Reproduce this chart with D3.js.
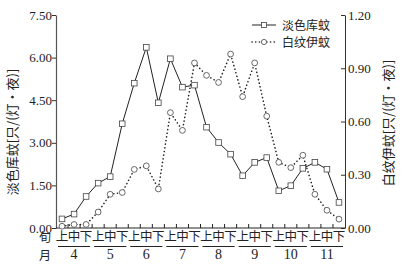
<!DOCTYPE html>
<html>
<head>
<meta charset="utf-8">
<script src="https://cdn.jsdelivr.net/npm/d3@7"></script>
<style>
  body { margin: 0; background: #fff; }
  svg text { fill: #222; }
  .num { font-family: "Liberation Serif", "DejaVu Serif", serif; font-size: 13px; }
  .cjk { font-family: "Noto Sans CJK SC", sans-serif; font-size: 12px; }
</style>
</head>
<body>
<div id="chart"></div>
<script>
// data
const months = ['4', '5', '6', '7', '8', '9', '10', '11'];
const xun = ['上', '中', '下'];
const culexValues = [
  0.32, 0.49, 1.11,
  1.58, 1.81, 3.67,
  5.10, 6.36, 4.41,
  5.96, 4.96, 5.03,
  3.55, 3.01, 2.60,
  1.84, 2.31, 2.48,
  1.31, 1.49, 2.10,
  2.31, 2.07, 0.90
];
const aedesValues = [
  0.01, 0.02, 0.02,
  0.09, 0.19, 0.20,
  0.33, 0.35, 0.22,
  0.65, 0.55, 0.93,
  0.86, 0.82, 0.98,
  0.74, 0.93, 0.63,
  0.37, 0.34, 0.41,
  0.19, 0.10, 0.05
];
const leftTicks = [0, 1.5, 3, 4.5, 6, 7.5];
const rightTicks = [0, 0.3, 0.6, 0.9, 1.2];
const seriesNames = ['淡色库蚊', '白纹伊蚊'];
const leftTitle = '淡色库蚊[只/(灯·夜)]';
const rightTitle = '白纹伊蚊[只/(灯·夜)]';

const W = 404, H = 266;
const margin = { top: 15, right: 59, bottom: 38, left: 56 };
const innerW = W - margin.left - margin.right;
const innerH = H - margin.top - margin.bottom;

const svg = d3.select('#chart').append('svg')
  .attr('width', W).attr('height', H);
const g = svg.append('g')
  .attr('transform', 'translate(' + margin.left + ',' + margin.top + ')');

// slots: one per 旬
const slots = [];
months.forEach(m => xun.forEach(x => slots.push(m + x)));

const xScale = d3.scaleBand().domain(slots).range([0, innerW]);
const yLeft = d3.scaleLinear().domain([0, 7.5]).range([innerH, 0]);
const yRight = d3.scaleLinear().domain([0, 1.2]).range([innerH, 0]);
const cx = i => xScale(slots[i]) + xScale.bandwidth() / 2;

// left axis
const la = g.append('g')
  .call(d3.axisLeft(yLeft).tickValues(leftTicks).tickFormat(d3.format('.2f')).tickSize(4).tickSizeOuter(0));
la.select('.domain').attr('stroke', '#555').attr('stroke-width', 1.2);
la.selectAll('.tick line').attr('stroke', '#333');
la.selectAll('.tick text').attr('class', 'num').attr('x', -4).attr('fill', '#222');

// right axis, ticks point inward
const ra = g.append('g')
  .attr('transform', 'translate(' + innerW + ',0)')
  .call(d3.axisRight(yRight).tickValues(rightTicks).tickFormat(d3.format('.2f')).tickSize(-4).tickSizeOuter(0));
ra.select('.domain').attr('stroke', '#333');
ra.selectAll('.tick line').attr('stroke', '#333');
ra.selectAll('.tick text').attr('class', 'num').attr('x', 3).attr('fill', '#222');

// x axis: ticks at slot boundaries pointing up
g.append('line')
  .attr('x1', 0).attr('x2', innerW)
  .attr('y1', innerH).attr('y2', innerH)
  .attr('stroke', '#222');
g.selectAll('.xtick').data(slots.slice(1))
  .enter().append('line')
  .attr('x1', d => xScale(d)).attr('x2', d => xScale(d))
  .attr('y1', innerH).attr('y2', innerH - 4)
  .attr('stroke', '#222');

g.selectAll('.xun').data(slots)
  .enter().append('text')
  .attr('class', 'cjk')
  .style('font-size', '12.5px')
  .attr('x', (d, i) => cx(i))
  .attr('y', innerH + 12.5)
  .attr('text-anchor', 'middle')
  .text(d => d.slice(-1));

const monthW = xScale.bandwidth() * 3;
months.forEach((m, i) => {
  const x0 = xScale(m + xun[0]);
  g.append('line')
    .attr('x1', x0 + 2).attr('x2', x0 + monthW - 2)
    .attr('y1', innerH + 18.5).attr('y2', innerH + 18.5)
    .attr('stroke', '#222').attr('stroke-width', 1.2);
  g.append('text')
    .attr('class', 'num')
    .style('font-size', '14px')
    .attr('x', x0 + monthW / 2)
    .attr('y', innerH + 31)
    .attr('text-anchor', 'middle')
    .text(m);
});
g.append('text').attr('class', 'cjk')
  .attr('x', -11).attr('y', innerH + 13.5).attr('text-anchor', 'middle').text('旬');
g.append('text').attr('class', 'cjk')
  .attr('x', -11).attr('y', innerH + 31.5).attr('text-anchor', 'middle').text('月');

// axis titles
svg.append('text')
  .attr('class', 'cjk')
  .style('font-size', '13px')
  .attr('transform', 'translate(17,' + 132 + ') rotate(-90)')
  .attr('text-anchor', 'middle')
  .text(leftTitle);
svg.append('text')
  .attr('class', 'cjk')
  .style('font-size', '13px')
  .attr('transform', 'translate(393,' + 123 + ') rotate(-90)')
  .attr('text-anchor', 'middle')
  .text(rightTitle);

// aedes dotted series
const lineR = d3.line().x((d, i) => cx(i)).y(d => yRight(d));
g.append('path')
  .attr('d', lineR(aedesValues))
  .attr('fill', 'none')
  .attr('stroke', '#222')
  .attr('stroke-width', 1.6)
  .attr('stroke-linecap', 'round')
  .attr('stroke-dasharray', '0.1,3.6');

// culex solid series
const lineL = d3.line().x((d, i) => cx(i)).y(d => yLeft(d));
g.append('path')
  .attr('d', lineL(culexValues))
  .attr('fill', 'none')
  .attr('stroke', '#222')
  .attr('stroke-width', 1);

g.selectAll('.circ').data(aedesValues)
  .enter().append('circle')
  .attr('cx', (d, i) => cx(i))
  .attr('cy', d => yRight(d))
  .attr('r', 2.9)
  .attr('fill', '#fff')
  .attr('stroke', '#444')
  .attr('stroke-width', 0.8);

g.selectAll('.sq').data(culexValues)
  .enter().append('rect')
  .attr('x', (d, i) => cx(i) - 2.8)
  .attr('y', d => yLeft(d) - 2.8)
  .attr('width', 5.6).attr('height', 5.6)
  .attr('fill', '#fff')
  .attr('stroke', '#444')
  .attr('stroke-width', 0.8);

// legend
const legend = svg.append('g').attr('transform', 'translate(252,25)');
legend.append('line').attr('x1', 0).attr('x2', 24).attr('y1', 0).attr('y2', 0)
  .attr('stroke', '#222');
legend.append('rect').attr('x', 9.5).attr('y', -2.5).attr('width', 5).attr('height', 5)
  .attr('fill', '#fff').attr('stroke', '#444').attr('stroke-width', 0.8);
legend.append('text').attr('class', 'cjk').attr('x', 30).attr('y', 4.5).text(seriesNames[0]);
legend.append('line').attr('x1', 0).attr('x2', 24).attr('y1', 17).attr('y2', 17)
  .attr('stroke', '#222').attr('stroke-width', 1.6)
  .attr('stroke-linecap', 'round').attr('stroke-dasharray', '0.1,3.6');
legend.append('circle').attr('cx', 12).attr('cy', 17).attr('r', 2.6)
  .attr('fill', '#fff').attr('stroke', '#444').attr('stroke-width', 0.8);
legend.append('text').attr('class', 'cjk').attr('x', 30).attr('y', 21.5).text(seriesNames[1]);
</script>
</body>
</html>
